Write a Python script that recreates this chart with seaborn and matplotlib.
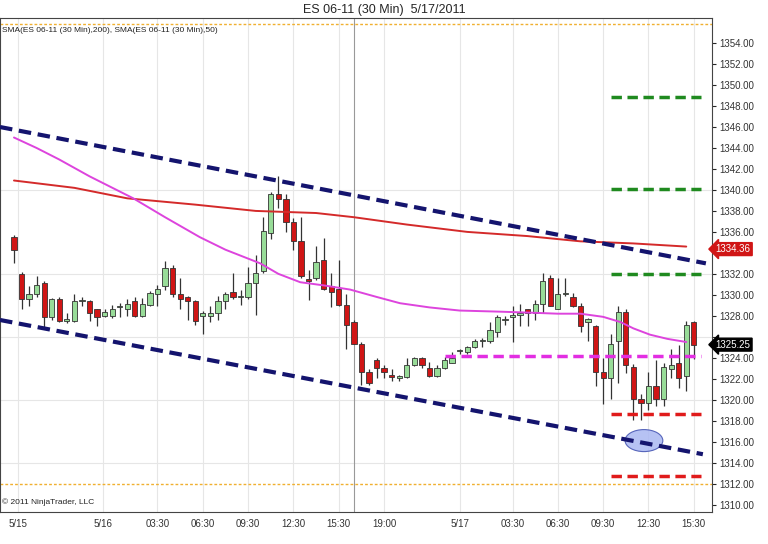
import matplotlib
matplotlib.use("Agg")
import matplotlib.pyplot as plt
from matplotlib.patches import Ellipse
import numpy as np
import pandas as pd
import seaborn as sns

# ── Data (30 min bars) ────────────────────────────────────────────────────────
opens = [1335.5, 1332.0, 1329.6, 1330.1, 1331.1, 1327.9, 1329.6, 1327.5, 1327.5, 1329.4,
         1329.4, 1328.6, 1328.0, 1328.0, 1328.8, 1328.6, 1329.4, 1328.0, 1329.0, 1330.1,
         1330.8, 1332.6, 1330.1, 1329.8, 1329.4, 1328.0, 1328.0, 1328.3, 1329.4, 1330.3,
         1329.8, 1329.8, 1331.1, 1332.3, 1335.9, 1339.6, 1339.1, 1336.9, 1335.1, 1331.5,
         1331.6, 1333.3, 1330.8, 1330.6, 1329.0, 1327.4, 1325.3, 1322.6, 1323.8, 1323.0,
         1322.4, 1322.1, 1322.2, 1323.3, 1324.0, 1323.0, 1322.3, 1323.0, 1323.5, 1324.6,
         1324.5, 1325.0, 1325.6, 1325.6, 1326.5, 1327.6, 1327.9, 1328.1, 1328.6, 1328.3,
         1329.1, 1331.6, 1328.6, 1330.1, 1329.8, 1328.9, 1327.4, 1327.0, 1322.6, 1322.1,
         1325.6, 1328.4, 1323.1, 1320.1, 1319.7, 1321.3, 1320.1, 1322.9, 1323.5, 1322.3,
         1327.4]
highs = [1335.75, 1332.2, 1330.8, 1331.8, 1331.3, 1329.7, 1329.8, 1328.3, 1330.1, 1329.8,
         1329.5, 1328.6, 1328.6, 1329.0, 1329.2, 1329.6, 1329.8, 1329.7, 1330.4, 1330.9,
         1333.2, 1332.8, 1331.6, 1329.9, 1329.5, 1328.5, 1328.9, 1329.9, 1330.3, 1332.1,
         1330.5, 1332.7, 1333.8, 1337.4, 1339.8, 1341.3, 1339.6, 1337.3, 1337.4, 1332.4,
         1334.7, 1335.4, 1332.1, 1333.3, 1330.1, 1327.6, 1325.5, 1322.9, 1324.0, 1323.3,
         1322.9, 1322.4, 1324.0, 1324.1, 1324.1, 1323.6, 1323.3, 1324.1, 1324.5, 1324.8,
         1325.1, 1325.8, 1325.9, 1327.4, 1328.1, 1328.0, 1328.9, 1329.1, 1328.6, 1329.5,
         1332.1, 1331.9, 1331.6, 1331.6, 1330.2, 1329.2, 1327.8, 1327.1, 1324.0, 1326.3,
         1328.9, 1328.6, 1323.4, 1320.5, 1322.6, 1323.8, 1323.5, 1324.8, 1325.2, 1327.5,
         1327.5]
lows = [1333.0, 1328.6, 1328.9, 1329.8, 1326.9, 1327.6, 1327.4, 1327.3, 1327.4, 1328.9,
        1327.5, 1327.0, 1327.9, 1327.8, 1327.9, 1328.0, 1327.9, 1327.9, 1328.9, 1328.9,
        1330.5, 1329.8, 1328.6, 1327.6, 1327.1, 1326.3, 1327.4, 1327.6, 1328.6, 1329.6,
        1329.0, 1329.6, 1328.1, 1332.1, 1335.3, 1338.3, 1336.0, 1334.3, 1331.6, 1329.5,
        1331.4, 1330.5, 1328.8, 1328.9, 1324.8, 1325.3, 1321.4, 1321.4, 1322.1, 1322.1,
        1321.8, 1321.8, 1322.1, 1323.2, 1323.0, 1322.2, 1322.2, 1322.9, 1323.5, 1324.4,
        1324.4, 1324.9, 1325.0, 1325.4, 1326.0, 1327.1, 1325.5, 1327.0, 1327.0, 1327.6,
        1328.3, 1328.9, 1328.6, 1329.9, 1328.8, 1326.5, 1325.6, 1321.3, 1319.6, 1320.1,
        1321.6, 1322.5, 1318.1, 1318.1, 1319.0, 1319.4, 1319.4, 1322.1, 1321.1, 1320.8,
        1323.9]
closes = [1334.25, 1329.6, 1330.1, 1330.9, 1327.9, 1329.6, 1327.5, 1327.7, 1329.4, 1329.5,
          1328.3, 1327.9, 1328.4, 1328.6, 1328.9, 1329.1, 1328.0, 1329.1, 1330.2, 1330.6,
          1332.6, 1330.1, 1329.6, 1329.4, 1327.5, 1328.3, 1328.3, 1329.4, 1330.1, 1329.8,
          1329.9, 1331.1, 1332.1, 1336.1, 1339.6, 1339.1, 1336.9, 1335.1, 1331.8, 1331.3,
          1333.1, 1330.6, 1330.3, 1329.0, 1327.1, 1325.3, 1322.6, 1321.6, 1323.0, 1322.6,
          1322.2, 1322.2, 1323.3, 1324.0, 1323.3, 1322.3, 1323.0, 1323.8, 1324.0, 1324.7,
          1325.0, 1325.6, 1325.7, 1326.6, 1327.9, 1327.7, 1328.1, 1328.3, 1328.3, 1329.1,
          1331.3, 1328.9, 1330.1, 1330.2, 1328.9, 1327.0, 1327.7, 1322.6, 1322.1, 1325.3,
          1328.4, 1323.3, 1320.1, 1319.7, 1321.3, 1320.1, 1323.1, 1323.3, 1322.1, 1327.1,
          1325.25]

# SMA lines read at bar positions along the curves
sma200_x = [0, 8, 15, 24, 32, 40, 45, 52, 60, 68, 75, 82, 89]
sma200_y = [1340.9, 1340.2, 1339.2, 1338.6, 1338.0, 1337.8, 1337.4, 1336.7, 1336.0, 1335.6,
            1335.1, 1334.9, 1334.6]
sma50_x = [0, 3, 6, 10, 15.8, 20, 24.6, 28, 32.6, 35, 37.9, 41, 44.5, 48, 51.1, 55, 59,
           64, 68.3, 72, 75, 78, 80.3, 82, 84.2, 86.5, 89]
sma50_y = [1345.0, 1344.0, 1342.9, 1341.3, 1339.2, 1337.4, 1335.5, 1334.3, 1333.0, 1332.0,
           1331.2, 1330.9, 1330.5, 1329.8, 1329.2, 1328.8, 1328.5, 1328.4, 1328.3, 1328.2,
           1328.2, 1327.9, 1327.4, 1326.8, 1326.2, 1325.8, 1325.5]

# trend channel end points (bar index, price)
upper_x, upper_y = [-1.85, 91.6], [1346.0, 1333.0]
lower_x, lower_y = [-1.85, 91.2], [1327.6, 1314.8]

green_levels = [1348.9, 1340.1, 1332.0]
red_levels = [1318.6, 1312.7]
pivot_level = 1324.2
band_levels = [1355.8, 1312.0]

tick_pos = [0.5, 11.8, 19, 25, 31, 37, 43, 49, 59, 66, 72, 78, 84, 90]
tick_labels = ["5/15", "5/16", "03:30", "06:30", "09:30", "12:30", "15:30", "19:00",
               "5/17", "03:30", "06:30", "09:30", "12:30", "15:30"]

# ── Plot ──────────────────────────────────────────────────────────────────────
sns.set_style("white")
plt.rcParams["font.family"] = ["Liberation Sans", "DejaVu Sans"]

fig = plt.figure(figsize=(7.68, 5.44), dpi=100)
ax = fig.add_axes([0.0, 0.059, 0.927, 0.908])

bars = pd.DataFrame({"o": opens, "h": highs, "l": lows, "c": closes})
bars["i"] = np.arange(len(bars))
up = bars["c"] >= bars["o"]

ax.vlines(bars["i"], bars["l"], bars["h"], color="#333333", lw=0.9, zorder=3)
for mask, col in [(up, "#98dc98"), (~up, "#d01515")]:
    sub = bars[mask]
    body = (sub["c"] - sub["o"]).abs().clip(lower=0.12)
    ax.bar(sub["i"], body, bottom=sub[["o", "c"]].min(axis=1), width=0.7,
           color=col, edgecolor="#333333", linewidth=0.6, zorder=4)

sns.lineplot(x=sma200_x, y=sma200_y, ax=ax, color="#d42a2a", lw=1.4, zorder=5)
sns.lineplot(x=sma50_x, y=sma50_y, ax=ax, color="#dd44dd", lw=1.4, zorder=5)

ax.add_patch(Ellipse((83.4, 1316.1), 5, 2.1, facecolor="#aab8f2", alpha=0.85,
                     edgecolor="#4050b0", lw=0.8, zorder=5.5))

for xs, ys in [(upper_x, upper_y), (lower_x, lower_y)]:
    ax.plot(xs, ys, color="#14146e", lw=3, ls=(0, (3, 1.6)), zorder=6)

for lv in green_levels:
    ax.hlines(lv, 79, 91, color="#1f8a1f", lw=2.5, ls=(0, (3, 1.6)), zorder=6)
for lv in red_levels:
    ax.hlines(lv, 79, 91, color="#e01b1b", lw=2.5, ls=(0, (3, 1.6)), zorder=6)
ax.hlines(pivot_level, 57, 91, color="#e22ee2", lw=2.5, ls=(0, (3, 1.6)), zorder=6)
for lv in band_levels:
    ax.axhline(lv, color="#f0b030", lw=1, ls=(0, (2, 1.5)), zorder=2)

ax.axvline(45, color="#999999", lw=0.8, zorder=1)
for t in tick_pos:
    ax.axvline(t, color="#e6e6e6", lw=0.8, zorder=0)
for p in [1340, 1332, 1326, 1320, 1314]:
    ax.axhline(p, color="#e6e6e6", lw=0.8, zorder=0)

ax.set_xlim(-1.85, 92.4)
ax.set_ylim(1309.3, 1356.4)
ax.set_xticks(tick_pos)
ax.set_xticklabels(tick_labels, fontsize=7, color="#333333")
yt = np.arange(1310, 1355, 2)
ax.set_yticks(yt)
# labels under the price tags are hidden, as on the original
ax.set_yticklabels(["" if v in (1326, 1334) else f"{v:.2f}" for v in yt],
                   fontsize=7, color="#333333")
ax.yaxis.tick_right()
ax.tick_params(axis="both", length=3, pad=2)
for s in ax.spines.values():
    s.set_color("#444444")
    s.set_linewidth(0.8)

# price tags on the axis
ax.text(92.9, 1334.36, "1334.36", fontsize=7, color="white", va="center", ha="left",
        bbox=dict(boxstyle="larrow,pad=0.15", fc="#d01515", ec="#d01515"), zorder=10,
        clip_on=False)
ax.text(92.9, 1325.25, "1325.25", fontsize=7, color="white", va="center", ha="left",
        bbox=dict(boxstyle="larrow,pad=0.15", fc="black", ec="black"), zorder=10,
        clip_on=False)

fig.text(0.5, 0.982, "ES 06-11 (30 Min)  5/17/2011", ha="center", va="center", fontsize=9)
ax.text(-1.6, 1355.2, "SMA(ES 06-11 (30 Min),200), SMA(ES 06-11 (30 Min),50)",
        fontsize=6, va="center", color="#222222")
ax.text(-1.6, 1310.2, "© 2011 NinjaTrader, LLC", fontsize=6, va="center", color="#222222")

fig.savefig("out.png", dpi=100)
